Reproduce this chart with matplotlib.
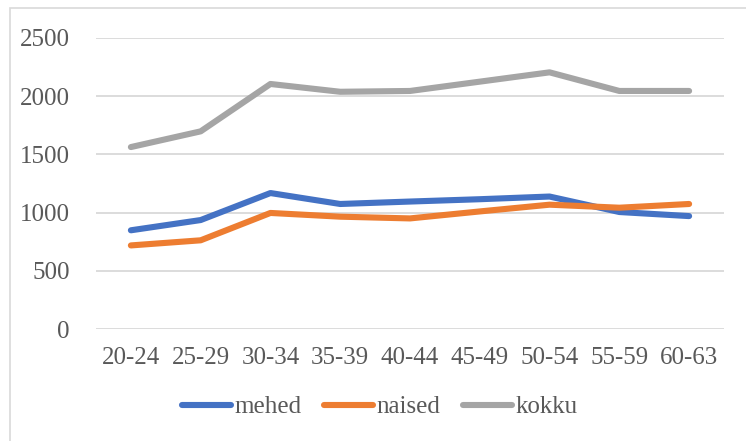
import matplotlib.pyplot as plt
from matplotlib.patches import Rectangle

# Age groups and values
age_groups = ['20-24', '25-29', '30-34', '35-39', '40-44', '45-49', '50-54', '55-59', '60-63']
mehed = [848, 936, 1168, 1074, 1095, 1115, 1138, 1005, 970]
naised = [718, 762, 997, 965, 950, 1010, 1068, 1042, 1074]
kokku = [1563, 1698, 2105, 2038, 2045, 2125, 2205, 2045, 2045]

plt.rcParams['font.family'] = ['Liberation Serif', 'DejaVu Serif']
text_color = '#595959'

fig = plt.figure(figsize=(7.46, 4.41), dpi=100)
W, H = 746, 441

# light chart-area border (left and top visible)
fig.patches.append(Rectangle((10 / W, -0.1), 1.2, (H - 8) / H + 0.1,
                             transform=fig.transFigure, fill=False,
                             edgecolor='#D9D9D9', linewidth=1.2))

ax = fig.add_axes([96 / W, (H - 329) / H, (724 - 96) / W, (329 - 38) / H])

x = range(len(age_groups))
ax.plot(x, mehed, color='#4472C4', linewidth=4.4, solid_capstyle='round', solid_joinstyle='round', label='mehed')
ax.plot(x, naised, color='#ED7D31', linewidth=4.4, solid_capstyle='round', solid_joinstyle='round', label='naised')
ax.plot(x, kokku, color='#A5A5A5', linewidth=4.4, solid_capstyle='round', solid_joinstyle='round', label='kokku')

ax.set_xlim(-0.5, len(age_groups) - 0.5)
ax.set_ylim(0, 2500)
ax.set_yticks([0, 500, 1000, 1500, 2000, 2500])
ax.set_xticks(list(x))
ax.set_xticklabels(age_groups)

ax.grid(axis='y', color='#D9D9D9', linewidth=1.3)
ax.set_axisbelow(True)
for s in ax.spines.values():
    s.set_visible(False)
ax.tick_params(axis='both', length=0, labelsize=18, labelcolor=text_color)
ax.tick_params(axis='x', pad=13)
ax.tick_params(axis='y', pad=19)

leg = fig.legend(loc='center', bbox_to_anchor=(380 / W, (H - 407) / H), ncol=3,
                 frameon=False, fontsize=18, handlelength=1.95, handletextpad=0.15,
                 columnspacing=0.9, labelcolor=text_color)

fig.savefig('out.png', dpi=100)
